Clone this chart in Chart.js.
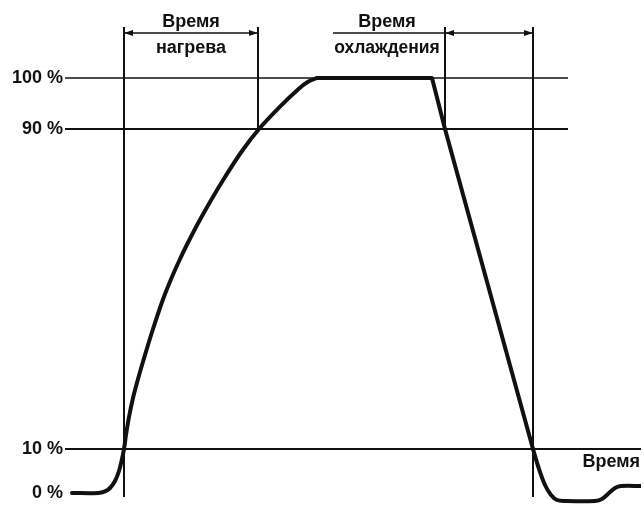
<!DOCTYPE html>
<html>
<head>
<meta charset="utf-8">
<script src="https://cdn.jsdelivr.net/npm/chart.js@4/dist/chart.umd.min.js"></script>
<style>
  html, body { margin: 0; padding: 0; background: #fff; }
  #wrap { width: 644px; height: 505px; position: relative; }
</style>
</head>
<body>
<div id="wrap"><canvas id="c"></canvas></div>
<script>
// ---- data (schematic time units / schematic level units) ----
const yTickValues = [-1, 10, 90, 102.75];
const yTickLabels = ['0 %', '10 %', '90 %', '100 %'];

// heating: baseline, rise to 90 % and rounding into 100 %
const riseTime  = [7, 33, 40, 45, 50, 54, 57, 59, 61, 64, 68, 73, 80, 88, 100, 115, 130, 145, 160, 177, 194, 215, 233, 243, 252];
const riseLevel = [-1, -1, -0.6, 0.25, 2, 4.5, 7.5, 10, 13.5, 18, 22.75, 27.5, 33.5, 40, 48.75, 57.5, 65, 71.75, 78, 84.5, 90, 95.6, 99.9, 101.8, 102.75];
// plateau and fall
const fallTime  = [252, 367, 380, 468];
const fallLevel = [102.75, 102.75, 90, 10];
// tail after cooling
const tailTime  = [468, 474, 480, 486, 492, 500, 530, 537, 544, 550, 556, 576];
const tailLevel = [10, 5, 1, -1.5, -2.75, -3, -3, -2.5, -1, 0.25, 0.75, 0.75];

const level100 = 102.75;
const level90 = 90;
const level10 = 10;
const refLineEnd = [503, 503, 576];          // end times of 100 %, 90 %, 10 % lines
const markerTimes = [59, 193, 380, 468];      // 10 % rise, 90 % rise, 90 % fall, 10 % fall
const markerBottoms = [-2, 90, 90, -2];
const markerTop = 115.5;
const arrowLevel = 114;
const labelLeadStart = 268;

const textHeating = ['Время', 'нагрева'];
const textCooling = ['Время', 'охлаждения'];
const textAxis = 'Время';

// ---- build datasets ----
const INK = '#111';
const datasets = [];
function seg(points, width, extra) {
  datasets.push(Object.assign({
    data: points, showLine: true, borderColor: INK, borderWidth: width,
    pointRadius: 0, fill: false, tension: 0
  }, extra || {}));
}
const pts = (xs, ys) => xs.map((t, i) => ({x: t, y: ys[i]}));
// reference levels
seg([{x: 0, y: level100}, {x: refLineEnd[0], y: level100}], 1.6);
seg([{x: 0, y: level90}, {x: refLineEnd[1], y: level90}], 2.2);
seg([{x: 0, y: level10}, {x: refLineEnd[2], y: level10}], 2);
// vertical markers
markerTimes.forEach((t, i) => seg([{x: t, y: markerTop}, {x: t, y: markerBottoms[i]}], 2));
// dimension arrows
seg([{x: markerTimes[0], y: arrowLevel}, {x: markerTimes[1], y: arrowLevel}], 1.6, {arrows: true});
seg([{x: labelLeadStart, y: arrowLevel}, {x: markerTimes[2], y: arrowLevel}], 1.6);
seg([{x: markerTimes[2], y: arrowLevel}, {x: markerTimes[3], y: arrowLevel}], 1.6, {arrows: true});
// main curve
const curveStyle = {borderCapStyle: 'round', borderJoinStyle: 'round'};
seg(pts(riseTime, riseLevel), 4, Object.assign({tension: 0.35}, curveStyle));
seg(pts(fallTime, fallLevel), 4, Object.assign({tension: 0}, curveStyle));
seg(pts(tailTime, tailLevel), 4, Object.assign({tension: 0.35}, curveStyle));

const FONT = 'bold 18px "Liberation Sans", Arial, sans-serif';

const decor = {
  id: 'decor',
  afterDatasetsDraw(chart) {
    const ctx = chart.ctx, xs = chart.scales.x, ys = chart.scales.y;
    ctx.save();
    // arrowheads
    chart.data.datasets.forEach((ds, di) => {
      if (!ds.arrows) return;
      const p = chart.getDatasetMeta(di).data;
      const a = p[0], b = p[p.length - 1];
      [[a, -1], [b, 1]].forEach(([q, dir]) => {
        ctx.beginPath();
        ctx.moveTo(q.x, q.y);
        ctx.lineTo(q.x - dir * 9, q.y - 3);
        ctx.lineTo(q.x - dir * 9, q.y + 3);
        ctx.closePath();
        ctx.fillStyle = INK;
        ctx.fill();
      });
    });
    // texts
    ctx.fillStyle = INK;
    ctx.font = FONT;
    ctx.textBaseline = 'middle';
    ctx.textAlign = 'center';
    const cx1 = xs.getPixelForValue((markerTimes[0] + markerTimes[1]) / 2);
    ctx.fillText(textHeating[0], cx1, ys.getPixelForValue(116.75));
    ctx.fillText(textHeating[1], cx1, ys.getPixelForValue(110.25));
    const cx2 = xs.getPixelForValue(322);
    ctx.fillText(textCooling[0], cx2, ys.getPixelForValue(116.75));
    ctx.font = 'bold 17.5px "Liberation Sans", Arial, sans-serif';
    ctx.fillText(textCooling[1], cx2, ys.getPixelForValue(110.25));
    ctx.font = FONT;
    ctx.textAlign = 'right';
    ctx.fillText(textAxis, xs.getPixelForValue(575), ys.getPixelForValue(6.75));
    ctx.restore();
  }
};

new Chart(document.getElementById('c'), {
  type: 'scatter',
  data: { datasets },
  options: {
    responsive: true,
    maintainAspectRatio: false,
    animation: false,
    layout: { padding: { left: 0, right: 3, top: 9, bottom: 0 } },
    plugins: { legend: { display: false }, tooltip: { enabled: false } },
    scales: {
      x: { type: 'linear', min: 0, max: 576, display: false },
      y: {
        type: 'linear', min: -4, max: 120,
        grid: { display: false, drawTicks: false },
        border: { display: false },
        afterBuildTicks(scale) { scale.ticks = yTickValues.map(v => ({ value: v })); },
        afterFit(scale) { scale.width = 65; scale.paddingTop = 0; scale.paddingBottom = 0; },
        ticks: {
          autoSkip: false,
          padding: 2,
          color: INK,
          font: { family: '"Liberation Sans", Arial, sans-serif', size: 18, weight: 'bold' },
          callback: (v, i) => yTickLabels[i]
        }
      }
    }
  },
  plugins: [decor]
});
</script>
</body>
</html>
